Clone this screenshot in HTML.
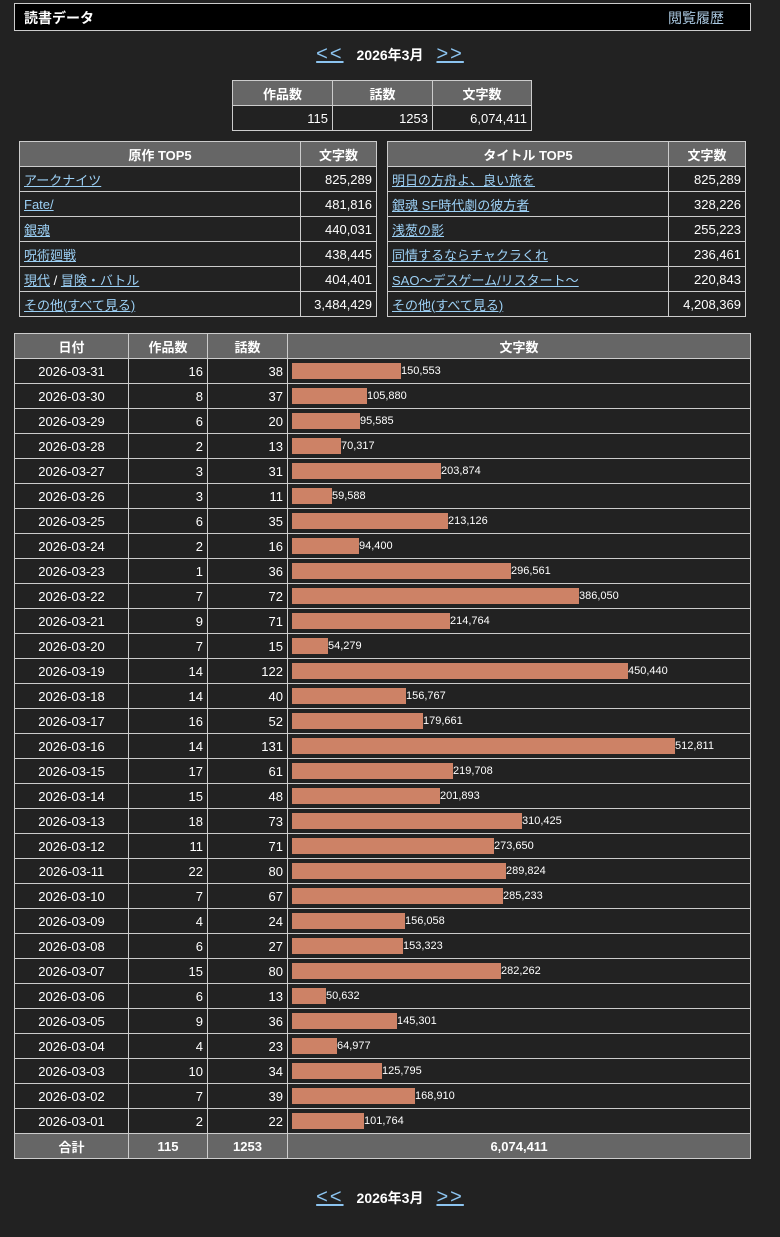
<!DOCTYPE html><html><head><meta charset="utf-8"><style>
body{margin:0;background:#222;color:#fff;font-family:"Liberation Sans","Noto Sans CJK JP",sans-serif;font-size:13px;width:780px;height:1237px;overflow:hidden;position:relative}
.hdr{position:absolute;left:14px;top:3px;width:735px;height:26px;background:#000;border:1px solid #ccc}
.hdr b{position:absolute;left:9px;top:4px;font-size:14px}
.hdr span{position:absolute;right:26px;top:4px;font-size:14px;color:#aac8e0}
.nav{position:absolute;left:0;width:780px;text-align:center;font-size:14px;font-weight:bold}
.nav a{color:#8cc4f0;text-decoration:underline;font-weight:normal;font-size:20px;letter-spacing:2px;margin:0 13px}
table{position:absolute;border-collapse:collapse;table-layout:fixed}
td,th{border:1px solid #ccc;height:25px;padding:0 4px;box-sizing:border-box}
th{background:#666;font-weight:bold}
td{text-align:right}
td.l{text-align:left}
td.l a,td.l{color:#9cd0f5}
a{color:#9cd0f5;text-decoration:underline}
.bar{display:inline-block;height:16px;background:#cd8266;vertical-align:middle}
.bc{text-align:left;padding-left:4px;font-size:11px}
.bc span{vertical-align:middle}
</style></head><body>
<div class="hdr"><b>読書データ</b><span>閲覧履歴</span></div>
<div class="nav" style="top:43px"><a>&lt;&lt;</a>2026年3月<a>&gt;&gt;</a></div>
<table style="left:232px;top:80px;width:300px"><tr><th style="width:100px">作品数</th><th style="width:100px">話数</th><th>文字数</th></tr><tr><td>115</td><td>1253</td><td>6,074,411</td></tr></table>
<table style="left:19px;top:141px;width:358px">
<tr><th style="width:281px">原作 TOP5</th><th>文字数</th></tr>
<tr><td class="l"><a>アークナイツ</a></td><td>825,289</td></tr>
<tr><td class="l"><a>Fate/</a></td><td>481,816</td></tr>
<tr><td class="l"><a>銀魂</a></td><td>440,031</td></tr>
<tr><td class="l"><a>呪術廻戦</a></td><td>438,445</td></tr>
<tr><td class="l"><a>現代</a> <span style="color:#fff">/</span> <a>冒険・バトル</a></td><td>404,401</td></tr>
<tr><td class="l"><a>その他(すべて見る)</a></td><td>3,484,429</td></tr></table>
<table style="left:387px;top:141px;width:359px">
<tr><th style="width:281px">タイトル TOP5</th><th>文字数</th></tr>
<tr><td class="l"><a>明日の方舟よ、良い旅を</a></td><td>825,289</td></tr>
<tr><td class="l"><a>銀魂 SF時代劇の彼方者</a></td><td>328,226</td></tr>
<tr><td class="l"><a>浅葱の影</a></td><td>255,223</td></tr>
<tr><td class="l"><a>同情するならチャクラくれ</a></td><td>236,461</td></tr>
<tr><td class="l"><a>SAO～デスゲーム/リスタート～</a></td><td>220,843</td></tr>
<tr><td class="l"><a>その他(すべて見る)</a></td><td>4,208,369</td></tr></table>
<table style="left:14px;top:333px;width:737px" id="t">
<tr><th style="width:114px">日付</th><th style="width:79px">作品数</th><th style="width:80px">話数</th><th>文字数</th></tr>
</table>
<div class="nav" style="top:1186px"><a>&lt;&lt;</a>2026年3月<a>&gt;&gt;</a></div>
<script>
var d=[[31,16,38,150553],[30,8,37,105880],[29,6,20,95585],[28,2,13,70317],[27,3,31,203874],[26,3,11,59588],[25,6,35,213126],[24,2,16,94400],[23,1,36,296561],[22,7,72,386050],[21,9,71,214764],[20,7,15,54279],[19,14,122,450440],[18,14,40,156767],[17,16,52,179661],[16,14,131,512811],[15,17,61,219708],[14,15,48,201893],[13,18,73,310425],[12,11,71,273650],[11,22,80,289824],[10,7,67,285233],[9,4,24,156058],[8,6,27,153323],[7,15,80,282262],[6,6,13,50632],[5,9,36,145301],[4,4,23,64977],[3,10,34,125795],[2,7,39,168910],[1,2,22,101764]];
var h="";d.forEach(function(r){var w=Math.round(0.000755*r[3]-4.5);h+='<tr><td style="text-align:center">2026-03-'+(r[0]<10?'0':'')+r[0]+'</td><td>'+r[1]+'</td><td>'+r[2]+'</td><td class="bc"><span class="bar" style="width:'+w+'px"></span><span>'+r[3].toLocaleString('en-US')+'</span></td></tr>';});
h+='<tr><th>合計</th><th>115</th><th>1253</th><th>6,074,411</th></tr>';
document.getElementById('t').insertAdjacentHTML('beforeend',h);
</script>
</body></html>
